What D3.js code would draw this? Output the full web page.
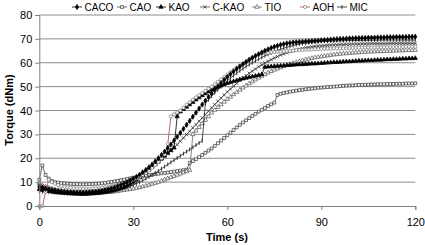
<html>
<head>
<meta charset="utf-8">
<title>Torque curves</title>
<style>
body{margin:0;background:#fff;}
text{font-family:"Liberation Sans",Arial,sans-serif;}
</style>
<script src="https://d3js.org/d3.v7.min.js"></script>
</head>
<body>
<svg width="425" height="245"></svg>
<script>
// time axis: one reading per second, 0..120 s
var times = d3.range(0, 121);
var xTicks = [0, 30, 60, 90, 120];
var yTicks = [0, 10, 20, 30, 40, 50, 60, 70, 80];
var names = ["CACO", "CAO", "KAO", "C-KAO", "TIO", "AOH", "MIC"];

var caco = [8,7.6,7.2,6.9,6.6,6.4,6.2,6,5.9,5.8,5.7,
 5.6,5.6,5.6,5.6,5.7,5.8,5.9,6,6.2,6.4,
 6.7,7,7.4,7.8,8.3,8.8,9.4,10,10.7,11.4,
 12.2,13.1,14.1,15.1,16.2,17.4,18.7,20,21.4,22.8,
 24.3,25.8,27.4,29,30.6,32.3,34,35.7,37.4,39.1,
 40.8,42.5,44.1,45.7,47.2,48.7,50.1,51.5,52.8,54,
 55.2,56.3,57.4,58.4,59.4,60.3,61.2,62,62.8,63.6,
 64.3,65,65.6,66.2,66.7,67.1,67.5,67.8,68.1,68.3,
 68.5,68.6,68.7,68.8,68.9,69,69.1,69.2,69.3,69.4,
 69.5,69.6,69.7,69.8,69.9,70,70,70.1,70.2,70.2,
 70.3,70.3,70.4,70.4,70.5,70.5,70.5,70.6,70.6,70.6,
 70.7,70.7,70.7,70.8,70.8,70.8,70.8,70.9,70.9,70.9];
var cao = [11,17,13,11.5,10.5,10,9.8,9.6,9.5,9.4,9.3,
 9.2,9.2,9.1,9.1,9.1,9.2,9.2,9.3,9.4,9.5,
 9.7,9.9,10.1,10.3,10.5,10.8,11,11.3,11.6,11.9,
 12.1,12.3,12.5,12.7,12.9,13.1,13.3,13.5,13.7,13.9,
 14,14.2,14.4,14.6,14.8,15,15.2,18,18.8,19.6,
 20.5,21.4,22.3,23.2,24.1,25.2,26.3,27.4,28.5,29.6,
 30.7,31.8,32.9,34,35,35.9,36.8,37.7,38.6,39.5,
 40.3,41.1,41.9,42.6,43.3,46.5,47,47.3,47.6,47.9,
 48.1,48.3,48.5,48.7,48.9,49,49.2,49.3,49.5,49.6,
 49.7,49.8,49.9,50,50.1,50.2,50.3,50.4,50.5,50.5,
 50.6,50.7,50.7,50.8,50.8,50.9,50.9,51,51,51,
 51.1,51.1,51.1,51.2,51.2,51.2,51.3,51.3,51.3,51.4];
var kao = [7,6.8,6.5,6.2,6,5.8,5.6,5.5,5.4,5.3,5.2,
 5.1,5.1,5,5,5,5.1,5.2,5.3,5.4,5.6,
 5.8,6,6.3,6.6,7,7.4,7.9,8.5,9.2,10,
 10.9,11.9,13,14.1,15.2,16.4,17.6,18.7,19.8,21,
 22.2,23.3,24.4,37.5,39.5,40.5,41.5,42.5,43.5,44.5,
 45.4,46.3,47.1,47.9,48.7,49.3,49.9,50.4,50.9,51.4,
 51.8,52.2,52.6,53,53.3,53.6,53.9,54.2,54.5,54.8,
 55.1,58.2,58.3,58.4,58.5,58.6,58.7,58.8,58.9,59,
 59.1,59.2,59.3,59.3,59.4,59.5,59.6,59.6,59.7,59.8,
 59.9,60,60.1,60.2,60.2,60.3,60.4,60.5,60.5,60.6,
 60.7,60.8,60.8,60.9,61,61,61.1,61.2,61.2,61.3,
 61.4,61.4,61.5,61.5,61.6,61.7,61.7,61.8,61.8,61.9];
var ckao = [9,8.5,8,7.6,7.2,6.9,6.6,6.4,6.2,6.1,6,
 5.9,5.8,5.8,5.8,5.8,5.9,6,6.1,6.3,6.5,
 6.8,7.1,7.5,7.9,8.3,8.8,9.3,9.9,10.5,11.1,
 11.8,12.6,13.4,14.3,15.2,16.2,17.2,18.3,19.4,20.6,
 21.8,23.1,24.4,25.7,27.1,28.5,29.9,31.3,32.7,34.1,
 35.5,36.9,38.3,39.7,41.1,42.5,43.9,45.2,46.5,47.8,
 49,50.2,51.4,52.5,53.6,54.6,55.6,56.5,57.4,58.3,
 59.1,59.9,60.6,61.3,62,62.6,63.2,63.7,64.2,64.6,
 65,65.4,65.7,66,66.3,66.5,66.7,66.9,67,67.1,
 67.2,67.3,67.4,67.5,67.5,67.6,67.6,67.7,67.7,67.8,
 67.8,67.8,67.9,67.9,67.9,68,68,68,68,68,
 68,68.1,68.1,68.1,68.1,68.1,68.1,68.1,68.1,68.1];
var tio = [9.5,8.5,8,7.6,7.2,6.9,6.6,6.4,6.2,6,5.9,
 5.8,5.7,5.6,5.6,5.5,5.5,5.5,5.5,5.6,5.6,
 5.7,5.8,5.9,6,6.2,6.4,6.6,6.8,7,7.2,
 7.5,7.8,8.1,8.4,8.8,9.2,9.6,10,10.5,11,
 11.5,12,12.5,13,13.5,14,14.5,15,30,31.5,
 33,34.5,36,37.5,39,40.2,41.4,42.5,43.6,44.7,
 45.7,46.7,47.7,48.6,49.5,50.4,51.3,52.1,52.9,53.7,
 54.4,55.1,55.8,56.4,57,57.5,58,58.5,59,59.4,
 59.8,60.2,60.6,61,61.3,61.6,61.9,62.2,62.4,62.6,
 62.8,63,63.2,63.4,63.5,63.7,63.8,63.9,64,64.1,
 64.2,64.3,64.4,64.5,64.6,64.6,64.7,64.7,64.8,64.8,
 64.9,64.9,65,65,65.1,65.1,65.2,65.2,65.3,65.3];
var aoh = [0,0,6,11,10,9.3,8.8,8.4,8.1,7.9,7.7,
 7.5,7.4,7.3,7.2,7.2,7.2,7.3,7.4,7.5,7.7,
 7.9,8.1,8.4,8.7,9,9.3,9.6,10,10.4,10.9,
 11.5,12.2,13,13.9,14.9,16,17.2,18.5,20,21.6,
 26,37.5,38.4,39.2,40,41.2,42.5,43.5,44.5,45.5,
 46.4,47.3,48.2,49.1,50,51,52,53,54,55,
 56,57,57.9,58.8,59.5,60.5,61.5,62.3,63,63.5,
 63.8,64,64.2,64.4,64.5,64.6,64.7,64.8,64.9,65,
 65.1,65.2,65.3,65.4,65.5,65.5,65.6,65.7,65.7,65.8,
 65.8,65.9,65.9,66,66,66,66.1,66.1,66.2,66.2,
 66.2,66.3,66.3,66.3,66.4,66.4,66.4,66.5,66.5,66.5,
 66.5,66.6,66.6,66.6,66.6,66.6,66.7,66.7,66.7,66.7];
var mic = [6.2,6,5.9,5.8,5.7,5.6,5.5,5.4,5.3,5.2,5.2,
 5.1,5.1,5.1,5.1,5.1,5.2,5.2,5.3,5.4,5.5,
 5.7,5.9,6.1,6.4,6.7,7,7.4,7.8,8.3,8.8,
 9.4,10,10.7,11.4,12.2,13,13.8,14.7,15.6,16.5,
 17.4,18.3,19.2,20.1,21,21.9,22.8,23.7,24.6,25.5,
 26.4,27.3,43,44.5,46,47.4,48.7,50,51.2,52.4,
 53.5,54.6,55.6,56.6,57.5,58.4,59.2,60,60.8,61.5,
 62.2,62.9,63.5,64.1,64.7,65.2,65.7,66.1,66.5,66.9,
 67.2,67.5,67.8,68,68.2,68.4,68.6,68.7,68.8,68.9,
 69,69,69.1,69.1,69.2,69.2,69.2,69.3,69.3,69.3,
 69.3,69.4,69.4,69.4,69.4,69.4,69.4,69.4,69.5,69.5,
 69.5,69.5,69.5,69.5,69.5,69.5,69.5,69.5,69.5,69.5];

var series = [caco, cao, kao, ckao, tio, aoh, mic];
// drawing style per series
var styles = [
  {line:"#000", sym:d3.symbolDiamond, size:8, fill:"#000", stroke:"#000"},
  {line:"#444", sym:d3.symbolSquare, size:8, fill:"#fff", stroke:"#333"},
  {line:"#000", sym:d3.symbolTriangle, size:8, fill:"#000", stroke:"#000"},
  {line:"#555", cross:true, stroke:"#333"},
  {line:"#666", sym:d3.symbolTriangle, size:8, fill:"#fff", stroke:"#555"},
  {line:"#b04040", sym:d3.symbolCircle, size:8, fill:"#fff", stroke:"#777"},
  {line:"#222", tick:true, stroke:"#111"}
];

var svg = d3.select("svg"),
    margin = {top: 15, right: 10, bottom: 39, left: 39.3},
    width = 376,
    height = 191;
var g = svg.append("g").attr("transform", `translate(${margin.left},${margin.top})`);

var x = d3.scaleLinear().domain([0, 120]).range([0, width]);
var y = d3.scaleLinear().domain([0, 80]).range([height, 0]);

// gridlines
g.selectAll(".grid").data(yTicks.slice(1)).enter().append("line")
  .attr("x1", 0).attr("x2", width)
  .attr("y1", d => y(d)).attr("y2", d => y(d))
  .attr("stroke", "#8c8c8c").attr("stroke-width", 1);

// series
var line = d3.line().x((d, i) => x(times[i])).y(d => y(d));
function marker(sel, st) {
  if (st.tick) {
    sel.append("line").attr("x1", 0).attr("x2", 0).attr("y1", -2).attr("y2", 2)
      .attr("stroke", st.stroke).attr("stroke-width", 0.8);
  } else if (st.cross) {
    sel.append("path").attr("d", "M-1.6,-1.6L1.6,1.6M-1.6,1.6L1.6,-1.6")
      .attr("stroke", st.stroke).attr("stroke-width", 0.8).attr("fill", "none");
  } else {
    sel.append("path").attr("d", d3.symbol().type(st.sym).size(st.size)())
      .attr("fill", st.fill).attr("stroke", st.stroke).attr("stroke-width", 0.7);
  }
}
var order = [1, 4, 3, 6, 2, 5, 0];
order.forEach(function(k) {
  var st = styles[k];
  var sg = g.append("g").attr("class", "series");
  sg.append("path").datum(series[k]).attr("d", line)
    .attr("fill", "none").attr("stroke", st.line).attr("stroke-width", 0.8);
  sg.selectAll(".m").data(series[k]).enter().append("g")
    .attr("transform", (d, i) => `translate(${x(times[i])},${y(d)})`)
    .each(function() { marker(d3.select(this), st); });
});

// axes
var yAxis = g.append("g").call(d3.axisLeft(y).tickValues(yTicks).tickSize(4).tickPadding(3));
var xAxis = g.append("g").attr("transform", `translate(0,${height})`)
  .call(d3.axisBottom(x).tickValues(xTicks).tickSize(4).tickPadding(8));
[yAxis, xAxis].forEach(function(a) {
  a.select(".domain").attr("stroke", "#808080");
  a.selectAll(".tick line").attr("stroke", "#808080");
  a.selectAll("text").attr("font-size", 11).attr("fill", "#000")
    .style("font-family", "Liberation Sans, Arial, sans-serif");
});

svg.append("text").attr("x", 227).attr("y", 241).attr("text-anchor", "middle")
  .attr("font-size", 11).attr("font-weight", "bold").text("Time (s)");
svg.append("text").attr("transform", "translate(13,110) rotate(-90)")
  .attr("text-anchor", "middle").attr("font-size", 11).attr("font-weight", "bold")
  .text("Torque (dNm)");

// legend
var legX = [72, 117, 156, 200, 252, 300, 337];
var leg = svg.append("g");
names.forEach(function(n, k) {
  var st = styles[k];
  var lg = leg.append("g").attr("transform", `translate(${legX[k]},7)`);
  lg.append("line").attr("x1", 0).attr("x2", 10).attr("stroke", st.line).attr("stroke-width", 0.8);
  marker(lg.append("g").attr("transform", "translate(5,0)"), st);
  lg.append("text").attr("x", 12.5).attr("y", 3.6).attr("font-size", 10).text(n);
});
</script>
</body>
</html>
